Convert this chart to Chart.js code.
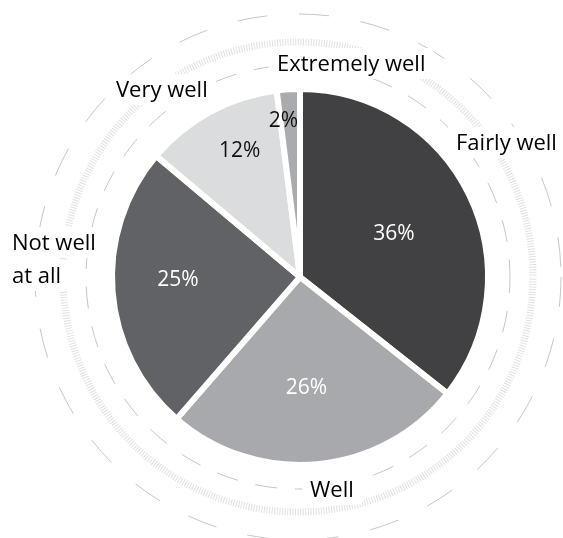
<!DOCTYPE html>
<html>
<head>
<meta charset="utf-8">
<script src="https://cdn.jsdelivr.net/npm/chart.js@4.4.1/dist/chart.umd.min.js"></script>
<style>
  html, body { margin: 0; padding: 0; background: #fff; }
  #wrap { width: 563px; height: 538px; }
</style>
</head>
<body>
<div id="wrap"><canvas id="myChart" width="563" height="538"></canvas></div>
<script>
const categories = ["Fairly well", "Well", "Not well at all", "Very well", "Extremely well"];
const shares = [36, 26, 25, 12, 2];
const pctLabels = ["36%", "26%", "25%", "12%", "2%"];

const sliceColors = ["#414042", "#a7a9ac", "#616265", "#dbdcde", "#a9abae"];
const pctColors = ["#ffffff", "#ffffff", "#ffffff", "#111111", "#111111"];
// distance of the % label from the centre, as a share of the radius
const pctRadius = [0.55, 0.59, 0.65, 0.745, 0.835];
const pctAngleShift = [1, 2, 3, 3, -2.5];

// outer names, wrapped lines and where they sit
const outerLabels = [
  { lines: ["Fairly well"], x: 456, y: 150 },
  { lines: ["Well"], x: 310, y: 497 },
  { lines: ["Not well", "at all"], x: 12, y: 250 },
  { lines: ["Very well"], x: 116, y: 97 },
  { lines: ["Extremely well"], x: 277, y: 71 }
];

const FONT = '"Open Sans", "Noto Sans", sans-serif';

const rings = {
  id: "rings",
  beforeDatasetsDraw(chart) {
    const c = chart.ctx;
    const arc = chart.getDatasetMeta(0).data[0];
    const cx = arc.x - 2, cy = arc.y;
    c.save();
    c.strokeStyle = "#c6c6c6";
    c.lineWidth = 1;
    c.setLineDash([30, 32]);
    c.beginPath(); c.arc(cx, cy, 263, 0, Math.PI * 2); c.stroke();
    c.setLineDash([22, 18]);
    c.lineDashOffset = 6;
    c.beginPath(); c.arc(cx, cy, 212, 0, Math.PI * 2); c.stroke();
    c.strokeStyle = "#e0e0e0";
    c.lineWidth = 7;
    c.setLineDash([1, 1.6]);
    c.beginPath(); c.arc(cx, cy, 235, 0, Math.PI * 2); c.stroke();
    c.restore();

    // clear space around the names
    c.save();
    c.font = "22px " + FONT;
    c.fillStyle = "#fff";
    outerLabels.forEach(l => {
      l.lines.forEach((t, i) => {
        const w = c.measureText(t).width;
        const by = l.y + i * 33;
        c.fillRect(l.x - 8, by - 23, w + 16, 31);
      });
    });
    c.restore();
  },
  afterDraw(chart) {
    const c = chart.ctx;
    const meta = chart.getDatasetMeta(0);
    c.save();
    c.font = "21px " + FONT;
    c.textAlign = "center";
    c.textBaseline = "middle";
    meta.data.forEach((a, i) => {
      const p = a.getProps(["x", "y", "startAngle", "endAngle", "outerRadius"], true);
      const mid = (p.startAngle + p.endAngle) / 2 + pctAngleShift[i] * Math.PI / 180;
      const r = p.outerRadius * pctRadius[i];
      c.fillStyle = pctColors[i];
      c.fillText(pctLabels[i], p.x + Math.cos(mid) * r, p.y + Math.sin(mid) * r);
    });
    c.font = "22px " + FONT;
    c.textAlign = "left";
    c.textBaseline = "alphabetic";
    c.fillStyle = "#000";
    outerLabels.forEach(l => {
      l.lines.forEach((t, i) => c.fillText(t, l.x, l.y + i * 33));
    });
    c.restore();
  }
};

const ctx = document.getElementById("myChart").getContext("2d");
const myChart = new Chart(ctx, {
  type: "pie",
  data: {
    labels: categories,
    datasets: [{
      data: shares,
      backgroundColor: sliceColors,
      borderColor: "#ffffff",
      borderWidth: 6
    }]
  },
  options: {
    responsive: false,
    animation: false,
    layout: { padding: { left: 109, right: 72, top: 86, bottom: 70 } },
    plugins: {
      legend: { display: false },
      tooltip: { enabled: false }
    }
  },
  plugins: [rings]
});
</script>
</body>
</html>
